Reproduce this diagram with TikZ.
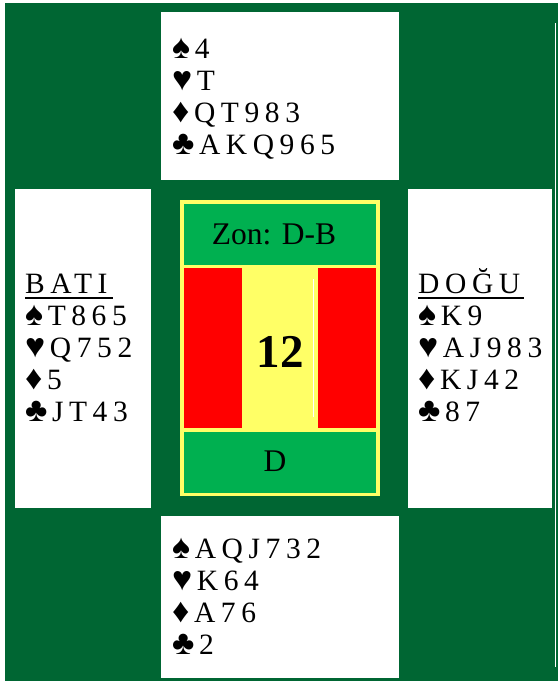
\documentclass[tikz,border=0pt]{standalone}
\usepackage{fontspec}
\setmainfont{Liberation Serif}
\newfontfamily\handfont[LetterSpace=19]{Liberation Serif}
\newcommand\cardsuit[1]{{\fontsize{34pt}{32pt}\selectfont #1}\kern4.5pt}
\definecolor{dgreen}{HTML}{006633}
\definecolor{mgreen}{HTML}{00B050}
\definecolor{yel}{HTML}{FFFF66}
\definecolor{rd}{HTML}{FF0000}
\tikzset{
  hand/.style={anchor=base west,inner sep=0pt,font=\handfont\fontsize{29.5pt}{32pt}\selectfont},
  zonetext/.style={anchor=base,inner sep=0pt,font=\fontsize{31.5pt}{34pt}\selectfont},
  bigno/.style={anchor=base,inner sep=0pt,font=\bfseries\fontsize{47pt}{50pt}\selectfont},
  ul/.style={line width=2pt,black}
}
\begin{document}
\begin{tikzpicture}[x=1pt,y=1pt]
\useasboundingbox (0,0) rectangle (558,-681);
% table
\fill[dgreen] (5,-3) rectangle (558,-681);
\draw[white,line width=1pt] (555.5,-23) -- (555.5,-667);
% hand boxes
\fill[white] (161,-12) rectangle (399,-180);
\fill[white] (15,-189) rectangle (151,-508);
\fill[white] (408,-189) rectangle (552,-508);
\fill[white] (161,-516) rectangle (399,-678);
% centre board
\fill[yel] (180,-200) rectangle (380,-496);
\fill[mgreen] (184,-204) rectangle (376,-265);
\fill[rd] (184,-268) rectangle (242,-428);
\fill[rd] (318,-268) rectangle (376,-428);
\fill[mgreen] (184,-432) rectangle (376,-493);
\draw[white,line width=0.5pt] (313,-279) -- (313,-417);
\node[zonetext] (zone) at (274,-244) {Zon: D-B};
\node[bigno] (board) at (280,-367) {12};
\node[zonetext] (dealer) at (275,-471.5) {D};
% North
\node[hand] (n1) at (172,-58) {\cardsuit{♠}4};
\node[hand] (n2) at (172,-90) {\cardsuit{♥}T};
\node[hand] (n3) at (172,-122) {\cardsuit{♦}QT983};
\node[hand] (n4) at (172,-154) {\cardsuit{♣}AKQ965};
% West
\node[hand] (wt) at (25,-293) {BATI};
\draw[ul] ([yshift=-5pt]wt.base west) -- ([yshift=-5pt,xshift=5pt]wt.base east);
\node[hand] (w1) at (25,-325) {\cardsuit{♠}T865};
\node[hand] (w2) at (25,-357) {\cardsuit{♥}Q752};
\node[hand] (w3) at (25,-389) {\cardsuit{♦}5};
\node[hand] (w4) at (25,-421) {\cardsuit{♣}JT43};
% East
\node[hand] (et) at (418,-293) {DOĞU};
\draw[ul] ([yshift=-5pt]et.base west) -- ([yshift=-5pt,xshift=4pt]et.base east);
\node[hand] (e1) at (418,-325) {\cardsuit{♠}K9};
\node[hand] (e2) at (418,-357) {\cardsuit{♥}AJ983};
\node[hand] (e3) at (418,-389) {\cardsuit{♦}KJ42};
\node[hand] (e4) at (418,-421) {\cardsuit{♣}87};
% South
\node[hand] (s1) at (172,-558) {\cardsuit{♠}AQJ732};
\node[hand] (s2) at (172,-590) {\cardsuit{♥}K64};
\node[hand] (s3) at (172,-622) {\cardsuit{♦}A76};
\node[hand] (s4) at (172,-654) {\cardsuit{♣}2};
\end{tikzpicture}
\end{document}
